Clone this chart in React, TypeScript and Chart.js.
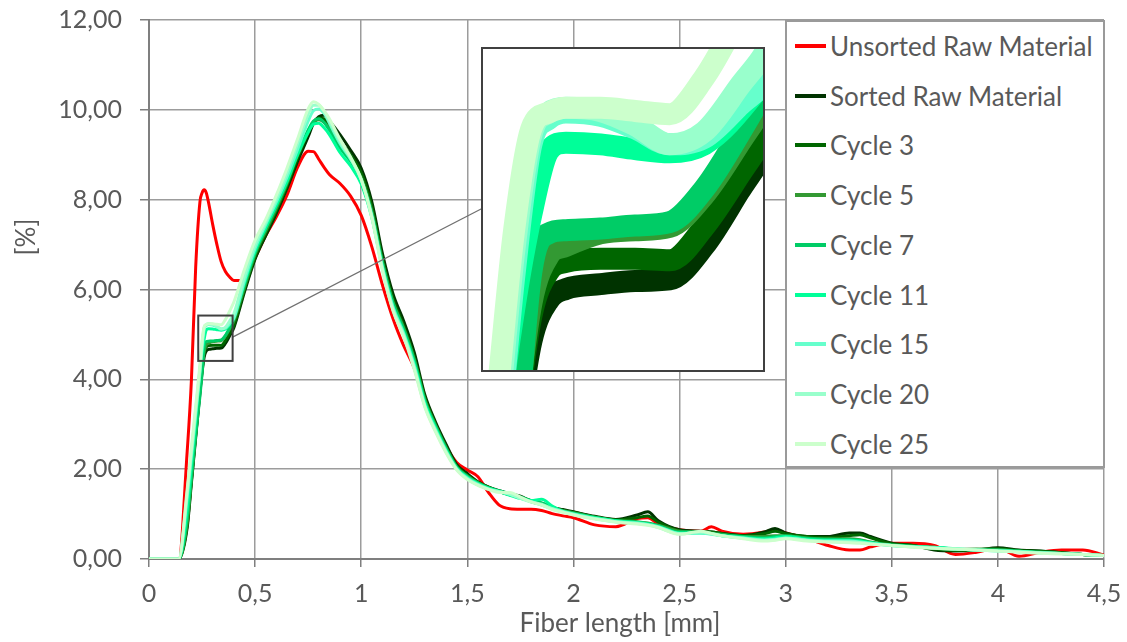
import React, { useEffect, useRef } from 'react';
import { Chart, registerables } from 'chart.js';

Chart.register(...registerables);

const FONT = 'Lato, "Open Sans", sans-serif';
const TEXT_COLOR = '#595959';

const fiberLength = [
  0, 0.05, 0.1, 0.14, 0.18, 0.2, 0.22, 0.24, 0.25, 0.26, 0.27, 0.28, 0.3, 0.32, 0.34, 0.36, 0.38, 0.4,
  0.45, 0.5, 0.55, 0.6, 0.65, 0.7, 0.75, 0.775, 0.8, 0.825, 0.85, 0.9, 0.95, 1.0, 1.05, 1.1, 1.15, 1.2,
  1.25, 1.3, 1.35, 1.4, 1.45, 1.5, 1.55, 1.6, 1.65, 1.7, 1.75, 1.8, 1.85, 1.9, 1.95, 2.0, 2.1, 2.2, 2.3,
  2.35, 2.4, 2.5, 2.6, 2.65, 2.7, 2.8, 2.9, 2.95, 3.0, 3.1, 3.2, 3.3, 3.35, 3.4, 3.5, 3.6, 3.7, 3.8, 3.9,
  4.0, 4.1, 4.2, 4.3, 4.4, 4.5,
];

const unsortedRaw = [
  0, 0, 0, 0, 2.4, 4.0, 6.5, 7.95, 8.15, 8.22, 8.15, 7.95, 7.45, 7.0, 6.62, 6.4, 6.28, 6.2,
  6.22, 6.7, 7.2, 7.62, 8.1, 8.72, 9.08, 9.07, 8.9, 8.72, 8.56, 8.36, 8.08, 7.65, 6.95, 6.1, 5.35, 4.75,
  4.25, 3.5, 2.95, 2.5, 2.15, 1.98, 1.83, 1.48, 1.2, 1.12, 1.11, 1.11, 1.08, 1.01, 0.96, 0.92, 0.76, 0.72, 0.9,
  0.92, 0.78, 0.65, 0.62, 0.72, 0.62, 0.55, 0.6, 0.65, 0.58, 0.46, 0.3, 0.2, 0.2, 0.27, 0.35, 0.35, 0.3, 0.1, 0.15,
  0.24, 0.06, 0.15, 0.2, 0.2, 0.09,
];

const sortedRaw = [
  0, 0, 0, 0, 0.7, 1.7, 2.7, 3.7, 4.15, 4.5, 4.63, 4.665, 4.68, 4.69, 4.695, 4.8, 4.97, 5.15,
  5.95, 6.68, 7.2, 7.7, 8.25, 8.85, 9.4, 9.7, 9.85, 9.88, 9.75, 9.45, 9.1, 8.7, 7.95, 6.8, 5.9, 5.3,
  4.6, 3.65, 3.05, 2.55, 2.1, 1.9, 1.72, 1.6, 1.52, 1.45, 1.4, 1.28, 1.22, 1.15, 1.1, 1.05, 0.95, 0.88, 0.98,
  1.05, 0.85, 0.65, 0.62, 0.6, 0.57, 0.52, 0.6, 0.68, 0.58, 0.5, 0.5, 0.58, 0.58, 0.5, 0.35, 0.3, 0.2, 0.18, 0.2,
  0.25, 0.2, 0.18, 0.14, 0.1, 0.08,
];

const cycle3 = [
  0, 0, 0, 0, 0.76, 1.75, 2.75, 3.75, 4.2, 4.58, 4.72, 4.75, 4.76, 4.76, 4.755, 4.86, 5.02, 5.2,
  6.0, 6.72, 7.25, 7.75, 8.3, 8.92, 9.5, 9.72, 9.82, 9.8, 9.65, 9.3, 9.0, 8.6, 7.85, 6.7, 5.8, 5.2,
  4.5, 3.6, 3.0, 2.5, 2.07, 1.87, 1.71, 1.6, 1.5, 1.43, 1.37, 1.3, 1.24, 1.15, 1.08, 1.04, 0.94, 0.87, 0.92,
  0.96, 0.82, 0.63, 0.6, 0.6, 0.56, 0.52, 0.56, 0.62, 0.56, 0.5, 0.48, 0.52, 0.54, 0.47, 0.34, 0.3, 0.22, 0.19, 0.21,
  0.23, 0.19, 0.17, 0.14, 0.1, 0.08,
];

const cycle5 = [
  0, 0, 0, 0, 0.8, 1.8, 2.8, 3.78, 4.22, 4.62, 4.77, 4.8, 4.84, 4.85, 4.86, 4.96, 5.12, 5.3,
  6.05, 6.78, 7.3, 7.8, 8.35, 8.98, 9.5, 9.72, 9.78, 9.72, 9.58, 9.2, 8.9, 8.5, 7.75, 6.62, 5.72, 5.15,
  4.45, 3.55, 2.98, 2.48, 2.05, 1.85, 1.7, 1.59, 1.51, 1.44, 1.38, 1.3, 1.22, 1.14, 1.08, 1.03, 0.93, 0.86, 0.83,
  0.8, 0.75, 0.62, 0.6, 0.58, 0.55, 0.5, 0.5, 0.52, 0.52, 0.47, 0.45, 0.45, 0.43, 0.38, 0.32, 0.29, 0.25, 0.21, 0.22,
  0.21, 0.17, 0.15, 0.13, 0.1, 0.08,
];

const cycle7 = [
  0, 0, 0, 0, 0.92, 1.84, 2.76, 3.62, 4.12, 4.72, 4.84, 4.85, 4.855, 4.865, 4.875, 4.98, 5.15, 5.35,
  6.1, 6.82, 7.35, 7.85, 8.4, 9.02, 9.55, 9.75, 9.8, 9.72, 9.55, 9.15, 8.85, 8.45, 7.7, 6.6, 5.7, 5.12,
  4.42, 3.52, 2.96, 2.46, 2.04, 1.84, 1.69, 1.58, 1.52, 1.46, 1.38, 1.3, 1.25, 1.15, 1.07, 1.02, 0.93, 0.85, 0.82,
  0.79, 0.74, 0.6, 0.6, 0.57, 0.54, 0.5, 0.47, 0.5, 0.51, 0.46, 0.44, 0.43, 0.42, 0.37, 0.31, 0.28, 0.26, 0.22, 0.2,
  0.2, 0.17, 0.15, 0.12, 0.1, 0.08,
];

const cycle11 = [
  0, 0, 0, 0, 1.1, 2.1, 3.1, 4.2, 4.6, 4.9, 5.1, 5.125, 5.12, 5.105, 5.095, 5.12, 5.22, 5.38,
  6.15, 6.85, 7.38, 7.88, 8.4, 9.0, 9.5, 9.68, 9.7, 9.6, 9.45, 9.05, 8.75, 8.35, 7.6, 6.5, 5.62, 5.05,
  4.35, 3.48, 2.92, 2.42, 2.02, 1.82, 1.68, 1.58, 1.5, 1.42, 1.35, 1.3, 1.33, 1.18, 1.06, 1.0, 0.92, 0.85, 0.81,
  0.78, 0.72, 0.58, 0.58, 0.56, 0.52, 0.48, 0.45, 0.47, 0.5, 0.44, 0.42, 0.42, 0.4, 0.36, 0.3, 0.28, 0.26, 0.23, 0.2,
  0.19, 0.17, 0.14, 0.12, 0.1, 0.08,
];

const cycle15 = [
  0, 0, 0, 0, 1.38, 2.3, 3.22, 4.14, 4.7, 5.12, 5.2, 5.22, 5.21, 5.17, 5.12, 5.14, 5.24, 5.36,
  6.2, 6.92, 7.45, 7.95, 8.5, 9.12, 9.75, 9.98, 10.02, 9.92, 9.7, 9.25, 8.9, 8.45, 7.65, 6.5, 5.6, 5.02,
  4.3, 3.42, 2.88, 2.4, 2.0, 1.8, 1.66, 1.56, 1.5, 1.45, 1.36, 1.28, 1.2, 1.12, 1.06, 1.0, 0.9, 0.83, 0.8,
  0.77, 0.72, 0.57, 0.58, 0.55, 0.52, 0.47, 0.42, 0.44, 0.47, 0.42, 0.4, 0.4, 0.38, 0.35, 0.3, 0.27, 0.25, 0.22, 0.2,
  0.18, 0.16, 0.14, 0.12, 0.1, 0.08,
];

const cycle20 = [
  0, 0, 0, 0, 1.47, 2.39, 3.31, 4.23, 4.78, 5.15, 5.22, 5.235, 5.225, 5.18, 5.12, 5.16, 5.3, 5.46,
  6.3, 7.0, 7.5, 8.02, 8.6, 9.25, 9.9, 10.1, 10.1, 9.95, 9.75, 9.3, 8.92, 8.45, 7.62, 6.45, 5.55, 4.98,
  4.25, 3.4, 2.85, 2.38, 2.0, 1.78, 1.65, 1.55, 1.5, 1.44, 1.35, 1.27, 1.22, 1.12, 1.05, 0.99, 0.9, 0.83, 0.79,
  0.76, 0.7, 0.56, 0.6, 0.56, 0.52, 0.46, 0.42, 0.43, 0.46, 0.42, 0.39, 0.38, 0.37, 0.34, 0.3, 0.27, 0.24, 0.22, 0.2,
  0.18, 0.16, 0.14, 0.12, 0.1, 0.08,
];

const cycle25 = [
  0, 0, 0, 0, 1.56, 2.48, 3.4, 4.32, 4.85, 5.17, 5.22, 5.235, 5.235, 5.225, 5.215, 5.33, 5.52, 5.72,
  6.45, 7.1, 7.56, 8.1, 8.7, 9.35, 10.02, 10.18, 10.12, 9.98, 9.8, 9.35, 8.95, 8.45, 7.6, 6.42, 5.52, 4.95,
  4.22, 3.38, 2.83, 2.36, 1.98, 1.77, 1.64, 1.55, 1.48, 1.48, 1.38, 1.27, 1.2, 1.1, 1.04, 0.98, 0.89, 0.82, 0.78,
  0.75, 0.7, 0.55, 0.62, 0.57, 0.52, 0.45, 0.4, 0.42, 0.45, 0.4, 0.38, 0.36, 0.35, 0.33, 0.3, 0.26, 0.24, 0.22, 0.2,
  0.18, 0.15, 0.13, 0.11, 0.1, 0.08,
];

const seriesNames = [
  'Unsorted Raw Material', 'Sorted Raw Material', 'Cycle 3', 'Cycle 5', 'Cycle 7',
  'Cycle 11', 'Cycle 15', 'Cycle 20', 'Cycle 25',
];
const seriesColors = [
  '#ff0000', '#003300', '#006600', '#339933', '#00cc66',
  '#00ff99', '#66ffcc', '#99ffcc', '#ccffcc',
];
const seriesValues = [unsortedRaw, sortedRaw, cycle3, cycle5, cycle7, cycle11, cycle15, cycle20, cycle25];

const X_TITLE = 'Fiber length [mm]';
const Y_TITLE = '[%]';
const zoomX = [0.232, 0.394];
const zoomY = [4.41, 5.42];

const fmtX = (v: number) => String(Math.round(v * 10) / 10).replace('.', ',');
const fmtY = (v: number) => (Math.round(v * 100) / 100).toFixed(2).replace('.', ',');

function makeDatasets(width: number) {
  return seriesValues.map((vals, i) => ({
    label: seriesNames[i],
    data: fiberLength.map((x, j) => ({ x, y: vals[j] })),
    borderColor: seriesColors[i],
    backgroundColor: seriesColors[i],
    borderWidth: width,
    pointRadius: 0,
    pointHoverRadius: 0,
    cubicInterpolationMode: 'monotone' as const,
    fill: false,
    order: -i,
  }));
}

const INSET = { left: 481, top: 47, width: 284, height: 325, border: 2 };

const overlayPlugin = {
  id: 'overlay',
  afterDatasetsDraw(chart: any) {
    const { ctx, scales } = chart;
    const xs = scales.x;
    const ys = scales.y;
    const x0 = xs.getPixelForValue(zoomX[0]);
    const x1 = xs.getPixelForValue(zoomX[1]);
    const y0 = ys.getPixelForValue(zoomY[1]);
    const y1 = ys.getPixelForValue(zoomY[0]);
    ctx.save();
    ctx.strokeStyle = '#707070';
    ctx.lineWidth = 1.2;
    ctx.beginPath();
    ctx.moveTo(x1, ys.getPixelForValue(4.94));
    ctx.lineTo(INSET.left + INSET.border, INSET.top + 161);
    ctx.stroke();
    ctx.strokeStyle = '#404040';
    ctx.lineWidth = 2;
    ctx.strokeRect(x0, y0, x1 - x0, y1 - y0);
    ctx.restore();
  },
  afterDraw(chart: any) {
    const { ctx } = chart;
    ctx.save();
    ctx.fillStyle = TEXT_COLOR;
    ctx.font = `26px ${FONT}`;
    ctx.textAlign = 'center';
    ctx.textBaseline = 'alphabetic';
    ctx.fillText(X_TITLE, 620, 632);
    ctx.translate(27, 237);
    ctx.rotate(-Math.PI / 2);
    ctx.textBaseline = 'middle';
    ctx.fillText(Y_TITLE, 0, 0);
    ctx.restore();
  },
};

export default function App() {
  const mainRef = useRef<HTMLCanvasElement>(null);
  const insetRef = useRef<HTMLCanvasElement>(null);

  useEffect(() => {
    if (!mainRef.current || !insetRef.current) return;
    const gridColor = '#9c9c9c';
    const axisColor = '#7f7f7f';
    const main = new Chart(mainRef.current, {
      type: 'line',
      data: { datasets: makeDatasets(3) as any },
      options: {
        responsive: false,
        animation: false,
        events: [],
        layout: { padding: { top: 20, right: 23, left: 0, bottom: 0 } },
        plugins: { legend: { display: false }, tooltip: { enabled: false } },
        scales: {
          x: {
            type: 'linear',
            min: 0,
            max: 4.5,
            ticks: {
              stepSize: 0.5,
              autoSkip: false,
              maxRotation: 0,
              padding: 12,
              color: TEXT_COLOR,
              font: { family: FONT, size: 25 },
              callback: (v: any) => fmtX(Number(v)),
            },
            grid: { color: gridColor, lineWidth: 1.5, tickLength: 8, tickColor: axisColor },
            border: { color: axisColor, width: 2 },
            afterFit: (s: any) => {
              s.height = 83;
              s.paddingLeft = 0;
              s.paddingRight = 0;
            },
          },
          y: {
            type: 'linear',
            min: 0,
            max: 12,
            ticks: {
              stepSize: 2,
              padding: 18,
              color: TEXT_COLOR,
              font: { family: FONT, size: 25 },
              callback: (v: any) => fmtY(Number(v)),
            },
            grid: { color: gridColor, lineWidth: 1.5, tickLength: 9, tickColor: axisColor },
            border: { color: axisColor, width: 2 },
            afterFit: (s: any) => {
              s.width = 149;
              s.paddingTop = 0;
              s.paddingBottom = 0;
            },
          },
        },
      },
      plugins: [overlayPlugin],
    });

    const inset = new Chart(insetRef.current, {
      type: 'line',
      data: { datasets: makeDatasets(22) as any },
      options: {
        responsive: false,
        animation: false,
        events: [],
        layout: { padding: 0 },
        plugins: { legend: { display: false }, tooltip: { enabled: false } },
        scales: {
          x: { type: 'linear', min: zoomX[0], max: zoomX[1], display: false },
          y: { type: 'linear', min: zoomY[0], max: zoomY[1], display: false },
        },
      },
    });

    return () => {
      main.destroy();
      inset.destroy();
    };
  }, []);

  return (
    <div style={{ position: 'fixed', left: 0, top: 0, width: 1127, height: 642, background: '#fff', overflow: 'hidden' }}>
      <canvas ref={mainRef} width={1127} height={642} style={{ position: 'absolute', left: 0, top: 0, display: 'block' }} />
      <div
        style={{
          position: 'absolute',
          left: INSET.left,
          top: INSET.top,
          width: INSET.width,
          height: INSET.height,
          border: `${INSET.border}px solid #404040`,
          boxSizing: 'border-box',
          background: '#fff',
        }}
      >
        <canvas ref={insetRef} width={INSET.width - 2 * INSET.border} height={INSET.height - 2 * INSET.border} style={{ display: 'block' }} />
      </div>
      <div
        style={{
          position: 'absolute',
          left: 785,
          top: 20,
          width: 320,
          height: 448,
          border: '2px solid #9a9a9a',
          boxSizing: 'border-box',
          background: '#fff',
          fontFamily: FONT,
          fontSize: 26,
          color: TEXT_COLOR,
        }}
      >
        {seriesNames.map((name, i) => (
          <div key={name} style={{ display: 'flex', alignItems: 'center', height: 49.75, marginTop: i === 0 ? -1 : 0, whiteSpace: 'nowrap' }}>
            <span style={{ display: 'inline-block', width: 31, height: 4, background: seriesColors[i], marginLeft: 8, marginRight: 4, flex: 'none' }} />
            <span style={{ lineHeight: '30px' }}>{name}</span>
          </div>
        ))}
      </div>
    </div>
  );
}
